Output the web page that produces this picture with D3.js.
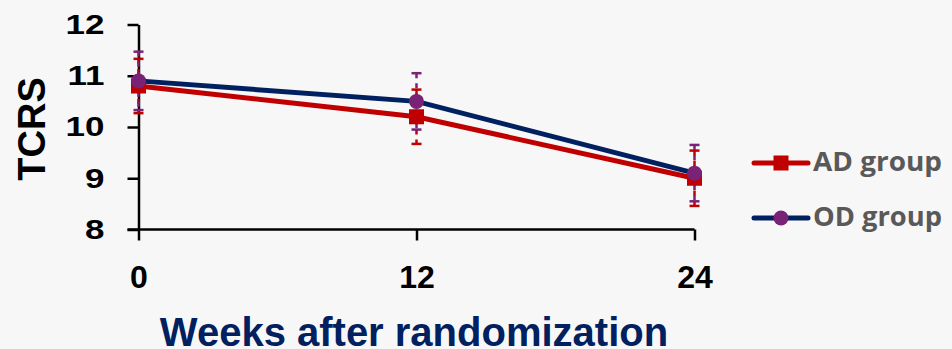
<!DOCTYPE html>
<html>
<head>
<meta charset="utf-8">
<script src="https://cdn.jsdelivr.net/npm/d3@7"></script>
<style>
  html, body { margin: 0; padding: 0; background: #f7f7f7; }
  svg { display: block; }
</style>
</head>
<body>
<div id="okvir"></div>
<script>
// podaci
const tjedni = [0, 12, 24]
const adVrijednosti = [10.8, 10.2, 9.0]
const adGreske = [0.53, 0.53, 0.54]
const odVrijednosti = [10.9, 10.5, 9.1]
const odGreske = [0.57, 0.55, 0.55]
const yTicks = [8, 9, 10, 11, 12]

const serije = [
  { ime: "AD group", vrijednosti: adVrijednosti, greske: adGreske, linija: "#c00000", marker: "#c00000", oblik: "square" },
  { ime: "OD group", vrijednosti: odVrijednosti, greske: odGreske, linija: "#002060", marker: "#7a2275", oblik: "circle" },
]

const dimenzije = { sirina: 952, visina: 349 }

const okvir = d3.select("#okvir").append("svg")
  .attr("width", dimenzije.sirina)
  .attr("height", dimenzije.visina)
  .style("background", "#f7f7f7")

const xSkala = d3.scaleLinear().domain([0, 24]).range([138.5, 694.5])
const ySkala = d3.scaleLinear().domain([8, 12]).range([229.5, 24.5])

// osi
const xOs = okvir.append("g")
  .attr("transform", `translate(0, ${ySkala(8)})`)
  .call(d3.axisBottom(xSkala).tickValues(tjedni).tickSize(11).tickPadding(22).tickSizeOuter(0))
xOs.select(".domain").attr("stroke", "#000").attr("stroke-width", 2.5)
  .attr("d", `M${xSkala(0) - 11},0H${xSkala(24)}`)
xOs.selectAll(".tick line").attr("stroke", "#000").attr("stroke-width", 2.5)
xOs.selectAll(".tick text")
  .attr("fill", "#000")
  .style("font-family", "Liberation Sans, Arial, sans-serif")
  .style("font-weight", "bold")
  .style("font-size", "32px")
  .attr("y", 58)
  .attr("dy", null)

const yOs = okvir.append("g")
  .attr("transform", `translate(${xSkala(0)}, 0)`)
  .call(d3.axisLeft(ySkala).tickValues(yTicks).tickFormat(d3.format("d")).tickSize(11).tickPadding(22).tickSizeOuter(0))
yOs.select(".domain").attr("stroke", "#000").attr("stroke-width", 2.5)
yOs.selectAll(".tick line").attr("stroke", "#000").attr("stroke-width", 2.5)
// oznake y osi su malo razvucene u originalu
yOs.selectAll(".tick text")
  .attr("fill", "#000")
  .style("font-family", "Liberation Sans, Arial, sans-serif")
  .style("font-weight", "bold")
  .style("font-size", "28px")
  .attr("x", 0)
  .attr("transform", "translate(-34, 0) scale(1.25, 1)")

// oznake osi
okvir.append("text")
  .attr("transform", `translate(45, 129) rotate(-90)`)
  .attr("text-anchor", "middle")
  .style("font-family", "Liberation Sans, Arial, sans-serif")
  .style("font-weight", "bold")
  .style("font-size", "38px")
  .attr("fill", "#000")
  .text("TCRS")

okvir.append("text")
  .attr("x", 414)
  .attr("y", 346)
  .attr("text-anchor", "middle")
  .style("font-family", "Liberation Sans, Arial, sans-serif")
  .style("font-weight", "bold")
  .style("font-size", "40px")
  .attr("fill", "#002060")
  .text("Weeks after randomization")

// error barovi
serije.forEach(s => {
  const g = okvir.append("g")
  tjedni.forEach((t, i) => {
    const x = xSkala(t)
    const y1 = ySkala(s.vrijednosti[i] + s.greske[i])
    const y2 = ySkala(s.vrijednosti[i] - s.greske[i])
    g.append("line")
      .attr("x1", x).attr("x2", x).attr("y1", y1).attr("y2", y2)
      .attr("stroke", s.marker).attr("stroke-width", 2.5)
      .attr("stroke-dasharray", "5,5")
    ;[y1, y2].forEach(yy => {
      g.append("line")
        .attr("x1", x - 5).attr("x2", x + 5).attr("y1", yy).attr("y2", yy)
        .attr("stroke", s.marker).attr("stroke-width", 2.5)
    })
  })
})

// linije i markeri
const linija = d3.line()
  .x((d, i) => xSkala(tjedni[i]))
  .y(d => ySkala(d))

function crtajMarker(g, s, x, y) {
  if (s.oblik === "square") {
    g.append("rect")
      .attr("x", x - 7.5).attr("y", y - 7.5)
      .attr("width", 15).attr("height", 15)
      .attr("fill", s.marker)
  } else {
    g.append("circle")
      .attr("cx", x).attr("cy", y).attr("r", 7.5)
      .attr("fill", s.marker)
  }
}

serije.forEach(s => {
  const g = okvir.append("g")
  g.append("path")
    .attr("d", linija(s.vrijednosti))
    .attr("fill", "none")
    .attr("stroke", s.linija)
    .attr("stroke-width", 5)
  s.vrijednosti.forEach((v, i) => crtajMarker(g, s, xSkala(tjedni[i]), ySkala(v)))
})

// legenda
const legenda = okvir.append("g")
serije.forEach((s, i) => {
  const y = 163 + i * 55
  legenda.append("line")
    .attr("x1", 754).attr("x2", 808).attr("y1", y).attr("y2", y)
    .attr("stroke", s.linija).attr("stroke-width", 5)
    .attr("stroke-linecap", "round")
  crtajMarker(legenda, s, 781, y)
  legenda.append("text")
    .attr("x", 813)
    .attr("y", y + 8)
    .attr("textLength", 129)
    .attr("lengthAdjust", "spacingAndGlyphs")
    .style("font-family", "Open Sans, sans-serif")
    .style("font-weight", "bold")
    .style("font-size", "26px")
    .attr("fill", "#595959")
    .text(s.ime)
})
</script>
</body>
</html>
